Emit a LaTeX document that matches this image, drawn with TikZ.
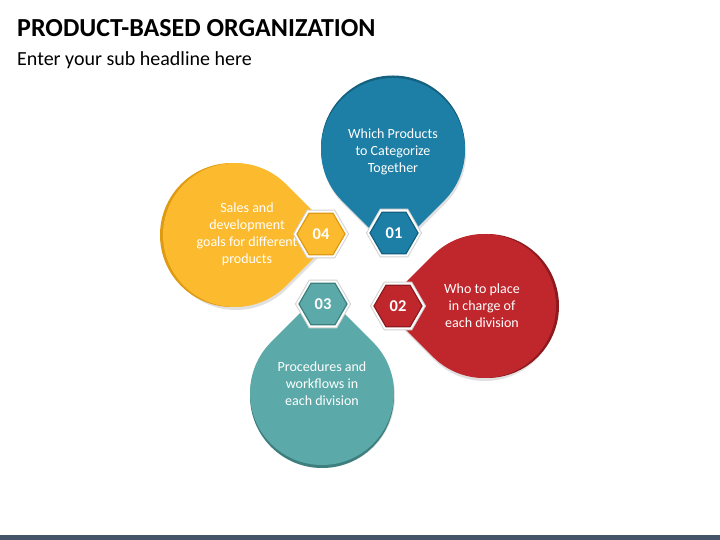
\documentclass[tikz,border=0pt]{standalone}
\usepackage{fontspec}
\setmainfont{Carlito}
\usetikzlibrary{shapes.geometric,calc}
\definecolor{cblue}{HTML}{1E7FA6}
\definecolor{cbluedk}{HTML}{14607F}
\definecolor{cred}{HTML}{C0272D}
\definecolor{creddk}{HTML}{8C1A1F}
\definecolor{cyel}{HTML}{FCBA2E}
\definecolor{cyeldk}{HTML}{DE9A12}
\definecolor{cteal}{HTML}{5BA9A8}
\definecolor{ctealdk}{HTML}{3D7F7E}
\definecolor{cbar}{HTML}{44546A}
\tikzset{
  hexa/.style={regular polygon, regular polygon sides=6, minimum size=48pt, inner sep=0pt,
    fill=#1, draw=#1dk, line width=1.2pt,
    preaction={draw=black!18, line width=7pt},
    preaction={draw=white, line width=5pt},
    text=white, font=\fontsize{16.5}{16.5}\selectfont\bfseries},
  dtext/.style={text=white, align=center, font=\fontsize{14}{17}\selectfont},
}
\newcommand{\teardrop}[4]{% center, angle, fill, shift
  \fill[#3, shift={(#4)}] (#1) ++(#2:102) -- ($(#1)+(#2+45:72)$) arc[start angle=#2+45, end angle=#2+315, radius=72] -- cycle;
}
\begin{document}
\begin{tikzpicture}[x=1pt,y=1pt]
\useasboundingbox (0,0) rectangle (720,540);
\fill[cbar] (0,0) rectangle (720,5);
\node[anchor=base west, inner sep=0pt, font=\fontsize{26}{26}\selectfont\bfseries] (title) at (17,503) {PRODUCT-BASED ORGANIZATION};
\node[anchor=base west, inner sep=0pt, font=\fontsize{20}{20}\selectfont] (sub) at (17,474) {Enter your sub headline here};
% shadows
\teardrop{393,390}{-90}{black!12}{1,-3}
\teardrop{235,305}{0}{black!12}{1,-3}
\teardrop{484,234}{180}{black!12}{1,-3}
\teardrop{322,147}{90}{black!12}{1,-3}
% dark edges
\teardrop{393,390}{-90}{cbluedk}{0,2.5}
\teardrop{235,305}{0}{cyeldk}{-3,0}
\teardrop{484,234}{180}{creddk}{3,0}
\teardrop{322,147}{90}{ctealdk}{0,-3}
% main
\teardrop{393,390}{-90}{cblue}{0,0}
\teardrop{235,305}{0}{cyel}{0,0}
\teardrop{484,234}{180}{cred}{0,0}
\teardrop{322,147}{90}{cteal}{0,0}
% texts
\node[dtext] (t1) at (393,388) {Which Products\\to Categorize\\Together};
\node[dtext] (t4) at (247,306) {Sales and\\development\\goals for different\\products};
\node[dtext] (t2) at (482,234) {Who to place\\in charge of\\each division};
\node[dtext] (t3) at (322,156) {Procedures and\\workflows in\\each division};
% hexagons
\node[hexa=cblue] (h1) at (394,307) {01};
\node[hexa=cyel] (h4) at (321,306) {04};
\node[hexa=cred] (h2) at (398,234) {02};
\node[hexa=cteal] (h3) at (323,236) {03};
\end{tikzpicture}
\end{document}
